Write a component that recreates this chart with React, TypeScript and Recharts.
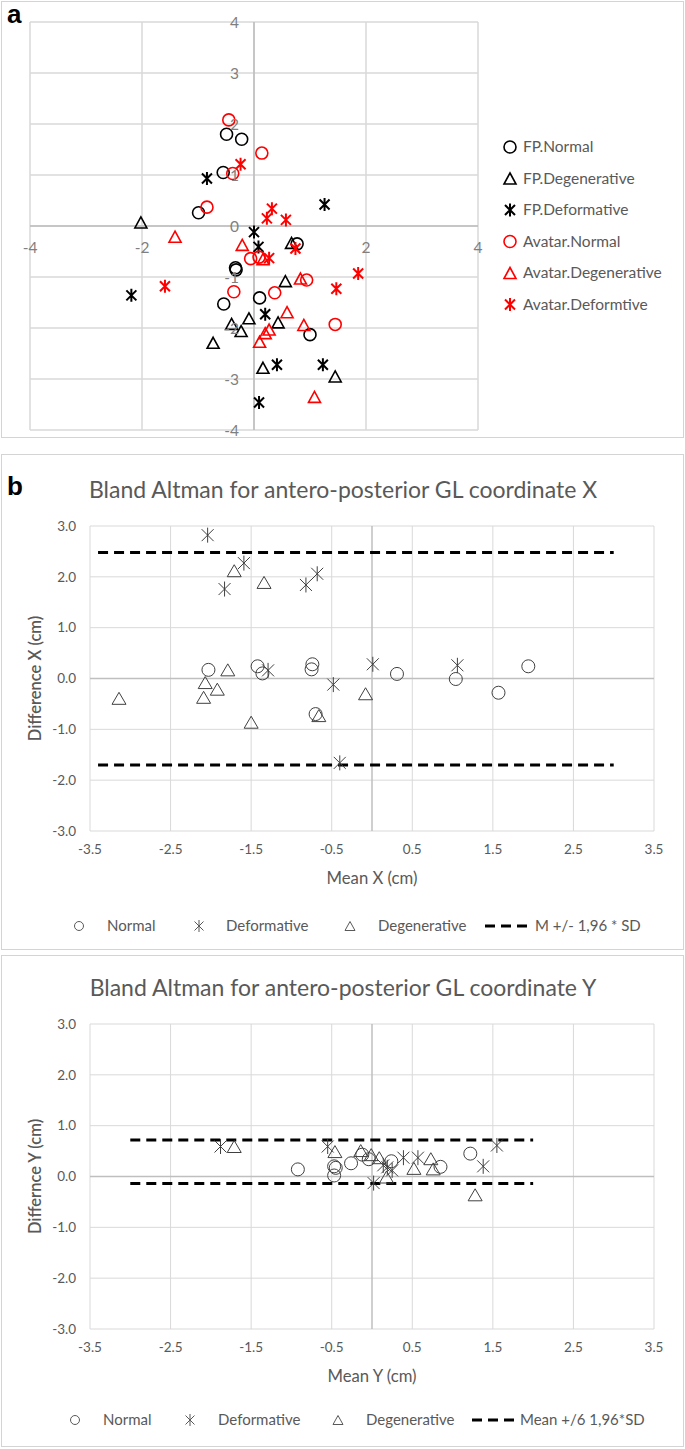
import React from 'react';
import { ScatterChart, Scatter, XAxis, YAxis, CartesianGrid, ReferenceLine, ReferenceDot } from 'recharts';

const FONT = 'Lato, "Open Sans", sans-serif';
const GREY_TXT = '#595959';

// ---------- Panel a data ----------
const aXTicks = [-4, -2, 0, 2, 4];
const aYTicks = [-4, -3, -2, -1, 0, 1, 2, 3, 4];
const aXLabels = [-4, -2, 2, 4];
const aYLabels = [4, 3, 2, 1, 0, -1, -2, -3, -4];

const fpNormal = [
  { x: -0.49, y: 1.8 }, { x: -0.22, y: 1.7 }, { x: -0.55, y: 1.05 }, { x: -0.99, y: 0.26 },
  { x: 0.77, y: -0.35 }, { x: -0.33, y: -0.82 }, { x: -0.32, y: -0.86 }, { x: 0.1, y: -1.41 },
  { x: -0.54, y: -1.53 }, { x: 1.0, y: -2.13 },
];
const fpDegenerative = [
  { x: -2.02, y: 0.07 }, { x: 0.67, y: -0.33 }, { x: 0.56, y: -1.08 }, { x: -0.09, y: -1.81 },
  { x: 0.43, y: -1.89 }, { x: -0.4, y: -1.92 }, { x: -0.23, y: -2.06 }, { x: -0.73, y: -2.29 },
  { x: 0.16, y: -2.78 }, { x: 1.45, y: -2.95 },
];
const fpDeformative = [
  { x: -0.84, y: 0.93 }, { x: 1.26, y: 0.42 }, { x: 0.0, y: -0.12 }, { x: 0.08, y: -0.41 },
  { x: -2.19, y: -1.36 }, { x: 0.2, y: -1.73 }, { x: 0.41, y: -2.72 }, { x: 1.23, y: -2.72 },
  { x: 0.09, y: -3.46 },
];
const avNormal = [
  { x: -0.45, y: 2.08 }, { x: 0.14, y: 1.43 }, { x: -0.38, y: 1.03 }, { x: -0.84, y: 0.37 },
  { x: -0.06, y: -0.64 }, { x: 0.09, y: -0.61 }, { x: 0.94, y: -1.06 }, { x: -0.36, y: -1.29 },
  { x: 0.37, y: -1.31 }, { x: 1.45, y: -1.93 },
];
const avDegenerative = [
  { x: -1.41, y: -0.21 }, { x: -0.21, y: -0.37 }, { x: 0.16, y: -0.65 }, { x: 0.83, y: -1.03 },
  { x: 0.59, y: -1.69 }, { x: 0.89, y: -1.94 }, { x: 0.27, y: -2.03 }, { x: 0.2, y: -2.1 },
  { x: 0.1, y: -2.27 }, { x: 1.08, y: -3.35 },
];
const avDeformtive = [
  { x: -0.24, y: 1.21 }, { x: 0.32, y: 0.34 }, { x: 0.23, y: 0.15 }, { x: 0.57, y: 0.12 },
  { x: 0.74, y: -0.44 }, { x: 0.27, y: -0.63 }, { x: 1.86, y: -0.93 }, { x: -1.59, y: -1.18 },
  { x: 1.47, y: -1.23 },
];
const aLegend = ['FP.Normal', 'FP.Degenerative', 'FP.Deformative', 'Avatar.Normal', 'Avatar.Degenerative', 'Avatar.Deformtive'];

// ---------- Panel b data ----------
const baXTicks = [-3.5, -2.5, -1.5, -0.5, 0.5, 1.5, 2.5, 3.5];
const baYTicks = [-3, -2, -1, 0, 1, 2, 3];

const bNormal = [
  { x: -2.03, y: 0.17 }, { x: -1.42, y: 0.24 }, { x: -1.36, y: 0.1 }, { x: -0.74, y: 0.28 },
  { x: -0.75, y: 0.18 }, { x: -0.7, y: -0.7 }, { x: 0.31, y: 0.09 }, { x: 1.04, y: -0.01 },
  { x: 1.57, y: -0.28 }, { x: 1.94, y: 0.24 },
];
const bDeformative = [
  { x: -2.04, y: 2.82 }, { x: -1.83, y: 1.76 }, { x: -1.59, y: 2.27 }, { x: -1.29, y: 0.16 },
  { x: -0.82, y: 1.84 }, { x: -0.68, y: 2.06 }, { x: -0.48, y: -0.12 }, { x: 0.01, y: 0.28 },
  { x: 1.06, y: 0.26 }, { x: -0.4, y: -1.66 },
];
const bDegenerative = [
  { x: -3.14, y: -0.39 }, { x: -2.07, y: -0.08 }, { x: -2.09, y: -0.37 }, { x: -1.92, y: -0.21 },
  { x: -1.79, y: 0.17 }, { x: -1.71, y: 2.12 }, { x: -1.34, y: 1.89 }, { x: -1.5, y: -0.86 },
  { x: -0.66, y: -0.73 }, { x: -0.08, y: -0.3 },
];
const bLimitValues = [2.48, -1.7];
const bLimitRange = [-3.4, 3.0];

// ---------- Panel c data ----------
const cNormal = [
  { x: -0.92, y: 0.14 }, { x: -0.47, y: 0.2 }, { x: -0.45, y: 0.17 }, { x: -0.47, y: 0.02 },
  { x: -0.26, y: 0.26 }, { x: -0.12, y: 0.43 }, { x: -0.04, y: 0.34 }, { x: 0.24, y: 0.3 },
  { x: 0.85, y: 0.19 }, { x: 1.22, y: 0.45 },
];
const cDeformative = [
  { x: -1.88, y: 0.59 }, { x: -0.55, y: 0.59 }, { x: 0.02, y: -0.13 }, { x: 0.14, y: 0.22 },
  { x: 0.25, y: 0.12 }, { x: 0.39, y: 0.37 }, { x: 0.57, y: 0.37 }, { x: 1.38, y: 0.2 },
  { x: 1.55, y: 0.61 }, { x: 0.19, y: 0.18 },
];
const cDegenerative = [
  { x: -1.71, y: 0.59 }, { x: -0.46, y: 0.49 }, { x: -0.14, y: 0.51 }, { x: -0.01, y: 0.43 },
  { x: 0.09, y: 0.37 }, { x: 0.18, y: -0.01 }, { x: 0.52, y: 0.16 }, { x: 0.73, y: 0.35 },
  { x: 0.76, y: 0.15 }, { x: 1.28, y: -0.36 },
];
const cLimitValues = [0.72, -0.14];
const cLimitRange = [-3.0, 2.0];

// ---------- markers ----------
const circleShape = (color: string, r: number, sw: number) => (p: any) => (
  <circle cx={p.cx} cy={p.cy} r={r} fill="none" stroke={color} strokeWidth={sw} />
);
const triPath = (cx: number, cy: number, w: number, h: number) =>
  `M${cx},${cy - h / 2} L${cx + w / 2},${cy + h / 2} L${cx - w / 2},${cy + h / 2} Z`;
const triShape = (color: string, w: number, h: number, sw: number) => (p: any) => (
  <path d={triPath(p.cx, p.cy, w, h)} fill="none" stroke={color} strokeWidth={sw} strokeLinejoin="miter" />
);
const starPath = (cx: number, cy: number, s: number, d: number) =>
  `M${cx},${cy - s} L${cx},${cy + s} M${cx - d},${cy - d} L${cx + d},${cy + d} M${cx - d},${cy + d} L${cx + d},${cy - d}`;
const starShape = (color: string, s: number, d: number, sw: number) => (p: any) => (
  <path d={starPath(p.cx, p.cy, s, d)} fill="none" stroke={color} strokeWidth={sw} />
);

const aShapes = [
  circleShape('#000', 6, 1.6),
  triShape('#000', 12, 11, 1.6),
  starShape('#000', 6.5, 5, 2),
  circleShape('#ff0000', 6, 1.6),
  triShape('#ff0000', 12, 11, 1.6),
  starShape('#ff0000', 6.5, 5, 2),
];
const aSeries = [fpNormal, fpDegenerative, fpDeformative, avNormal, avDegenerative, avDeformtive];

const MK = '#404040';
const baShapes = [circleShape(MK, 6.5, 1), starShape(MK, 7.5, 6, 1), triShape(MK, 14, 12, 1)];

// ---------- Panel a ----------
const PanelA = () => (
  <div style={{ position: 'absolute', left: 0, top: 0, width: 685, height: 440 }}>
    <ScatterChart width={685} height={440} margin={{ top: 22, right: 207, bottom: 10, left: 30 }}>
      <XAxis type="number" dataKey="x" domain={[-4, 4]} ticks={aXTicks} hide />
      <YAxis type="number" dataKey="y" domain={[-4, 4]} ticks={aYTicks} hide />
      <CartesianGrid stroke="#d9d9d9" strokeWidth={1.5} />
      <ReferenceLine x={0} stroke="#bdbdbd" strokeWidth={1.5} />
      <ReferenceLine y={0} stroke="#bdbdbd" strokeWidth={1.5} />
      {aXLabels.map((v) => (
        <ReferenceDot key={'xl' + v} x={v} y={0} r={0} fill="none" stroke="none"
          label={{ value: String(v), position: 'bottom', offset: 16, fill: '#7f7f7f', fontSize: 15.5, fontFamily: FONT }} />
      ))}
      {aYLabels.map((v) => (
        <ReferenceDot key={'yl' + v} x={0} y={v} r={0} fill="none" stroke="none"
          label={{ value: String(v), position: 'left', offset: 15, fill: '#7f7f7f', fontSize: 15.5, fontFamily: FONT }} />
      ))}
      {aSeries.map((d, i) => (
        <Scatter key={aLegend[i]} name={aLegend[i]} data={d} shape={aShapes[i]} isAnimationActive={false} />
      ))}
    </ScatterChart>
    <svg width={685} height={440} style={{ position: 'absolute', left: 0, top: 0, pointerEvents: 'none' }}>
      <text x={7} y={23} fontFamily='"Liberation Sans", Arial, sans-serif' fontWeight="bold" fontSize={26} fill="#000">a</text>
      {aLegend.map((name, i) => {
        const cy = 147 + i * 31.5;
        return (
          <g key={name}>
            {aShapes[i]({ cx: 510, cy })}
            <text x={523} y={cy} dy="0.35em" fontFamily={FONT} fontSize={15.5} fill={GREY_TXT}>{name}</text>
          </g>
        );
      })}
    </svg>
  </div>
);

// ---------- Bland Altman panels ----------
type BAProps = {
  top: number; height: number; label?: string; title: string; xTitle: string; yTitle: string;
  series: { x: number; y: number }[][]; limits: number[]; range: number[]; legendTexts: string[];
  legendPos: number[]; legendY: number; marginTop: number;
};
const seriesNames = ['Normal', 'Deformative', 'Degenerative'];

const BAPanel = (p: BAProps) => (
  <div style={{ position: 'absolute', left: 0, top: p.top, width: 685, height: p.height }}>
    <ScatterChart width={685} height={p.height} margin={{ top: p.marginTop, right: 31, bottom: p.height - p.marginTop - 305 - 60, left: 0 }}>
      <CartesianGrid stroke="#d9d9d9" strokeWidth={1} />
      <XAxis type="number" dataKey="x" domain={[-3.5, 3.5]} ticks={baXTicks} tickFormatter={(v: number) => v.toFixed(1)}
        axisLine={false} tickLine={false} tickMargin={7} height={60} interval={0}
        tick={{ fill: GREY_TXT, fontSize: 13.5, fontFamily: FONT }}
        label={{ value: p.xTitle, position: 'insideBottom', offset: 7, fill: GREY_TXT, fontSize: 16.7, fontFamily: FONT }} />
      <YAxis type="number" dataKey="y" domain={[-3, 3]} ticks={baYTicks} tickFormatter={(v: number) => v.toFixed(1)}
        axisLine={false} tickLine={false} tickMargin={8} width={90} interval={0}
        tick={{ fill: GREY_TXT, fontSize: 13.5, fontFamily: FONT }}
        label={{ value: p.yTitle, angle: -90, position: 'insideLeft', offset: 35, fill: GREY_TXT, fontSize: 16.5, fontFamily: FONT, fontWeight: 600, style: { textAnchor: 'middle' } }} />
      <ReferenceLine x={0} stroke="#bfbfbf" strokeWidth={1.5} />
      <ReferenceLine y={0} stroke="#bfbfbf" strokeWidth={1.5} />
      {p.limits.map((v) => (
        <ReferenceLine key={'lim' + v} segment={[{ x: p.range[0], y: v }, { x: p.range[1], y: v }]}
          stroke="#000" strokeWidth={3} strokeDasharray="10 6" />
      ))}
      {p.series.map((d, i) => (
        <Scatter key={seriesNames[i]} name={seriesNames[i]} data={d} shape={baShapes[i]} isAnimationActive={false} />
      ))}
    </ScatterChart>
    <svg width={685} height={p.height} style={{ position: 'absolute', left: 0, top: 0, pointerEvents: 'none' }}>
      {p.label && (
        <text x={7} y={40} fontFamily='"Liberation Sans", Arial, sans-serif' fontWeight="bold" fontSize={26} fill="#000">{p.label}</text>
      )}
      <text x={343} y={p.marginTop - 36} dy="0.35em" textAnchor="middle" fontFamily={FONT} fontSize={23} fill={GREY_TXT}>{p.title}</text>
      <g>
        <circle cx={p.legendPos[0]} cy={p.legendY} r={4.5} fill="none" stroke={GREY_TXT} strokeWidth={1} />
        <text x={p.legendPos[1]} y={p.legendY} dy="0.35em" fontFamily={FONT} fontSize={15} fill={GREY_TXT}>{p.legendTexts[0]}</text>
        <path d={starPath(p.legendPos[2], p.legendY, 6, 4.5)} fill="none" stroke={GREY_TXT} strokeWidth={1} />
        <text x={p.legendPos[3]} y={p.legendY} dy="0.35em" fontFamily={FONT} fontSize={15} fill={GREY_TXT}>{p.legendTexts[1]}</text>
        <path d={triPath(p.legendPos[4], p.legendY, 10, 9)} fill="none" stroke={GREY_TXT} strokeWidth={1} />
        <text x={p.legendPos[5]} y={p.legendY} dy="0.35em" fontFamily={FONT} fontSize={15} fill={GREY_TXT}>{p.legendTexts[2]}</text>
        <line x1={p.legendPos[6]} x2={p.legendPos[7]} y1={p.legendY} y2={p.legendY} stroke="#000" strokeWidth={3} strokeDasharray="10 6" />
        <text x={p.legendPos[8]} y={p.legendY} dy="0.35em" fontFamily={FONT} fontSize={15} fill={GREY_TXT}>{p.legendTexts[3]}</text>
      </g>
    </svg>
  </div>
);

export default function App() {
  return (
    <div style={{ position: 'absolute', left: 0, top: 0, width: 685, height: 1449, background: '#fff' }}>
      <div style={{ position: 'absolute', left: 1, top: 1, width: 681, height: 435, border: '1px solid #d4d4d4' }} />
      <div style={{ position: 'absolute', left: 1, top: 454, width: 681, height: 494, border: '1px solid #d4d4d4' }} />
      <div style={{ position: 'absolute', left: 1, top: 955, width: 681, height: 490, border: '1px solid #d4d4d4' }} />
      <PanelA />
      <BAPanel top={455} height={495} label="b" marginTop={71}
        title="Bland Altman for antero-posterior GL coordinate X" xTitle="Mean X (cm)" yTitle="Difference X (cm)"
        series={[bNormal, bDeformative, bDegenerative]} limits={bLimitValues} range={bLimitRange}
        legendTexts={['Normal', 'Deformative', 'Degenerative', 'M +/- 1,96 * SD']}
        legendPos={[79, 107, 199, 226, 350, 378, 485, 531, 535]} legendY={471} />
      <BAPanel top={955} height={492} marginTop={69}
        title="Bland Altman for antero-posterior GL coordinate Y" xTitle="Mean Y (cm)" yTitle="Differnce Y (cm)"
        series={[cNormal, cDeformative, cDegenerative]} limits={cLimitValues} range={cLimitRange}
        legendTexts={['Normal', 'Deformative', 'Degenerative', 'Mean +/6 1,96*SD']}
        legendPos={[75, 103, 190, 218, 338, 366, 472, 515, 520]} legendY={465} />
    </div>
  );
}
